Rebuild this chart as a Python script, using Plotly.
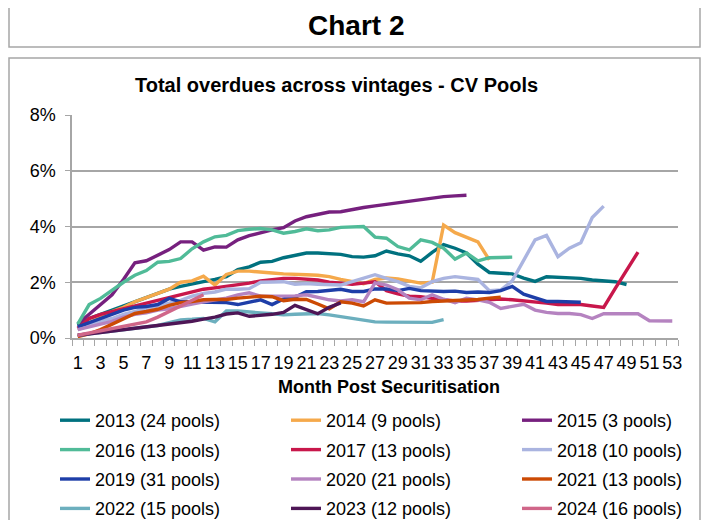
import plotly.graph_objects as go

# ---------------- data ----------------
months = list(range(1, 54))
tick_labels = [str(m) for m in range(1, 54, 2)]

names = ["2013 (24 pools)", "2014 (9 pools)", "2015 (3 pools)",
         "2016 (13 pools)", "2017 (13 pools)", "2018 (10 pools)",
         "2019 (31 pools)", "2020 (21 pools)", "2021 (13 pools)",
         "2022 (15 pools)", "2023 (12 pools)", "2024 (16 pools)"]

v2013 = [0.45, 0.7, 0.85, 1.0, 1.15, 1.3, 1.45, 1.6, 1.75, 1.85, 1.95, 2.02, 2.1, 2.2, 2.45,
         2.55, 2.72, 2.75, 2.88, 2.95, 3.05, 3.05, 3.03, 3.0, 2.92, 2.9, 2.95, 3.12, 3.02, 2.95,
         2.75, 3.07, 3.35, 3.22, 3.05, 2.65, 2.35, 2.32, 2.3, 2.15, 2.03, 2.2, 2.18, 2.16, 2.14,
         2.08, 2.04, 2.02, 1.92]
v2014 = [0.3, 0.55, 0.75, 0.95, 1.1, 1.3, 1.45, 1.6, 1.75, 2.0, 2.05, 2.22, 1.9, 2.28, 2.4,
         2.4, 2.35, 2.33, 2.3, 2.3, 2.27, 2.25, 2.2, 2.1, 2.02, 1.95, 2.1, 2.15, 2.12, 2.06,
         1.97, 2.0, 4.05, 3.78, 3.63, 3.45, 2.8]
v2015 = [0.5, 0.85, 1.2, 1.55, 2.1, 2.7, 2.77, 2.98, 3.17, 3.45, 3.45, 3.15, 3.27, 3.26, 3.52,
         3.67, 3.79, 3.88, 3.96, 4.2, 4.35, 4.45, 4.52, 4.53, 4.62, 4.68, 4.74, 4.8, 4.86, 4.92,
         4.97, 5.02, 5.07, 5.1, 5.12]
v2016 = [0.5, 1.2, 1.42, 1.72, 2.0, 2.25, 2.42, 2.72, 2.75, 2.85, 3.2, 3.45, 3.63, 3.68, 3.85,
         3.9, 3.93, 3.88, 3.76, 3.82, 3.92, 3.85, 3.88, 3.97, 4.0, 4.0, 3.62, 3.58, 3.28, 3.16,
         3.52, 3.43, 3.22, 2.83, 3.05, 2.77, 2.88, 2.9, 2.9]
v2017 = [0.35, 0.7, 0.85, 0.95, 1.05, 1.15, 1.25, 1.35, 1.45, 1.55, 1.65, 1.75, 1.8, 1.85, 1.92,
         1.97, 2.05, 2.1, 2.14, 2.14, 2.12, 2.08, 2.0, 1.97, 1.93, 1.97, 2.02, 1.7, 1.58, 1.5,
         1.48, 1.42, 1.36, 1.33, 1.33, 1.35, 1.37, 1.4, 1.37, 1.34, 1.3, 1.25, 1.2, 1.2, 1.2,
         1.15, 1.1, 1.77, 2.43, 3.08]
v2018 = [0.3, 0.45, 0.6, 0.7, 0.85, 0.95, 1.05, 1.15, 1.25, 1.35, 1.5, 1.6, 1.65, 1.75, 1.75,
         1.77, 2.0, 2.02, 2.02, 1.93, 1.95, 1.93, 1.9, 1.9, 2.02, 2.14, 2.27, 2.14, 2.02, 1.85,
         1.8, 2.02, 2.14, 2.2, 2.15, 2.1, 1.7, 1.72, 2.05, 2.8, 3.52, 3.68, 2.92, 3.22, 3.42,
         4.32, 4.73]
v2019 = [0.4, 0.55, 0.7, 0.83, 1.0, 1.1, 1.13, 1.2, 1.42, 1.3, 1.3, 1.3, 1.27, 1.27, 1.2,
         1.3, 1.37, 1.2, 1.4, 1.46, 1.66, 1.67, 1.72, 1.75, 1.67, 1.67, 1.76, 1.76, 1.7, 1.78,
         1.7, 1.67, 1.67, 1.68, 1.63, 1.65, 1.63, 1.7, 1.85, 1.57, 1.43, 1.31, 1.31, 1.3, 1.28]
v2020 = [0.3, 0.4, 0.5, 0.6, 0.75, 0.85, 0.9, 1.0, 1.05, 1.15, 1.22, 1.3, 1.35, 1.43, 1.55,
         1.62, 1.5, 1.5, 1.53, 1.51, 1.55, 1.45, 1.37, 1.33, 1.37, 1.3, 1.98, 1.9, 1.73, 1.43,
         1.37, 1.55, 1.39, 1.27, 1.43, 1.37, 1.28, 1.06, 1.12, 1.21, 1.0, 0.92, 0.88, 0.88, 0.84,
         0.7, 0.87, 0.87, 0.87, 0.87, 0.62, 0.62, 0.61]
v2021 = [0.05, 0.15, 0.3, 0.5, 0.7, 0.88, 0.95, 1.03, 1.17, 1.27, 1.31, 1.37, 1.38, 1.38, 1.43,
         1.48, 1.5, 1.48, 1.34, 1.39, 1.38, 1.22, 1.05, 1.3, 1.25, 1.15, 1.37, 1.25, 1.25, 1.27,
         1.27, 1.31, 1.33, 1.34, 1.37, 1.38, 1.43, 1.46]
v2022 = [0.1, 0.15, 0.2, 0.25, 0.3, 0.35, 0.4, 0.45, 0.55, 0.65, 0.67, 0.7, 0.58, 0.97, 0.97,
         0.92, 0.9, 0.87, 0.83, 0.85, 0.86, 0.88, 0.83, 0.77, 0.7, 0.63, 0.58, 0.57, 0.57, 0.57,
         0.55, 0.56, 0.66]
v2023 = [0.1, 0.15, 0.2, 0.25, 0.28, 0.32, 0.38, 0.44, 0.47, 0.52, 0.6, 0.68, 0.75, 0.86, 0.9,
         0.78, 0.8, 0.85, 0.92, 1.17, 1.02, 0.87, 1.1, 1.26]
v2024 = [0.1, 0.18, 0.25, 0.33, 0.42, 0.5, 0.58, 0.75, 0.95, 1.15, 1.38, 1.55]

values = [v2013, v2014, v2015, v2016, v2017, v2018,
          v2019, v2020, v2021, v2022, v2023, v2024]

colors = ["#00717F", "#F5A94B", "#76207E", "#50BB98", "#C8174B", "#AAB4E0",
          "#1E3EA8", "#B583C0", "#CC4A04", "#6CAFBE", "#4E1656", "#D06689"]

# ---------------- figure ----------------
# The page body has an 8px margin, so the figure is drawn 8px in from the window edge.
OFF = 8
W, H = 710 - OFF, 520 - OFF
L, R, T, B = 72 - OFF, 32, 115 - OFF, 182
PW, PH = W - L - R, H - T - B
FONT = "Liberation Sans, Arial, sans-serif"
GRID = "#A6A6A6"


def px(x):
    """window pixel x -> paper fraction"""
    return (x - OFF - L) / PW


def py(y):
    """window pixel y -> paper fraction"""
    return 1 - (y - OFF - T) / PH


legend_ids = ["legend", "legend2", "legend3"]

fig = go.Figure()
for i, (name, vals, col) in enumerate(zip(names, values, colors)):
    fig.add_trace(go.Scatter(
        x=months[:len(vals)], y=vals, mode="lines", name=name,
        line=dict(color=col, width=3.4),
        legend=legend_ids[i % 3], legendgroup=name,
    ))

legend_common = dict(
    orientation="v", xref="container", yref="container",
    yanchor="top", xanchor="left",
    font=dict(size=18, family=FONT, color="black"),
    bgcolor="rgba(0,0,0,0)", tracegroupgap=3,
)
leg_top = 1 - (402 - OFF) / H

fig.update_layout(
    width=W, height=H,
    margin=dict(l=L, r=R, t=T, b=B, autoexpand=False),
    paper_bgcolor="white", plot_bgcolor="white",
    font=dict(family=FONT, color="black", size=18),
    showlegend=True,
    legend=dict(legend_common, x=(55 - OFF) / W, y=leg_top),
    legend2=dict(legend_common, x=(286 - OFF) / W, y=leg_top),
    legend3=dict(legend_common, x=(517 - OFF) / W, y=leg_top),
    xaxis=dict(
        range=[0.5, 53.5], tickmode="array",
        tickvals=list(range(1, 54, 2)), ticktext=tick_labels,
        ticks="", showgrid=False, zeroline=False,
        showline=True, linecolor=GRID, linewidth=1.5,
        tickfont=dict(size=18), ticklabelstandoff=8,
        automargin=False,
        minor=dict(ticks="outside", tickmode="array",
                   tickvals=[m - 0.5 for m in range(1, 55)],
                   ticklen=6, tickcolor=GRID, tickwidth=1.2, showgrid=False),
    ),
    yaxis=dict(
        range=[0, 8], tickmode="linear", tick0=0, dtick=2, ticksuffix="%",
        showgrid=True, gridcolor=GRID, gridwidth=1.5, zeroline=False,
        showline=True, linecolor=GRID, linewidth=1.5,
        ticks="outside", ticklen=5, tickcolor=GRID, tickwidth=1.2,
        tickfont=dict(size=18), ticklabelstandoff=6, automargin=False,
    ),
    shapes=[
        dict(type="rect", xref="paper", yref="paper",
             x0=px(9), x1=px(700), y0=py(47), y1=py(3),
             line=dict(color=GRID, width=1.5), fillcolor="rgba(0,0,0,0)", layer="below"),
        dict(type="rect", xref="paper", yref="paper",
             x0=px(9), x1=px(700), y0=py(530), y1=py(58),
             line=dict(color=GRID, width=1.5), fillcolor="rgba(0,0,0,0)", layer="below"),
    ],
    annotations=[
        dict(text="<b>Chart 2</b>", xref="paper", yref="paper", x=px(356), y=py(26),
             xanchor="center", yanchor="middle", showarrow=False,
             font=dict(size=28, family=FONT, color="black")),
        dict(text="<b>Total overdues across vintages - CV Pools</b>", xref="paper", yref="paper",
             x=px(336), y=py(85), xanchor="center", yanchor="middle", showarrow=False,
             font=dict(size=20, family=FONT, color="black")),
        dict(text="<b>Month Post Securitisation</b>", xref="paper", yref="paper",
             x=px(389), y=py(387), xanchor="center", yanchor="middle", showarrow=False,
             font=dict(size=18, family=FONT, color="black")),
    ],
)

fig.write_html("out.html")
